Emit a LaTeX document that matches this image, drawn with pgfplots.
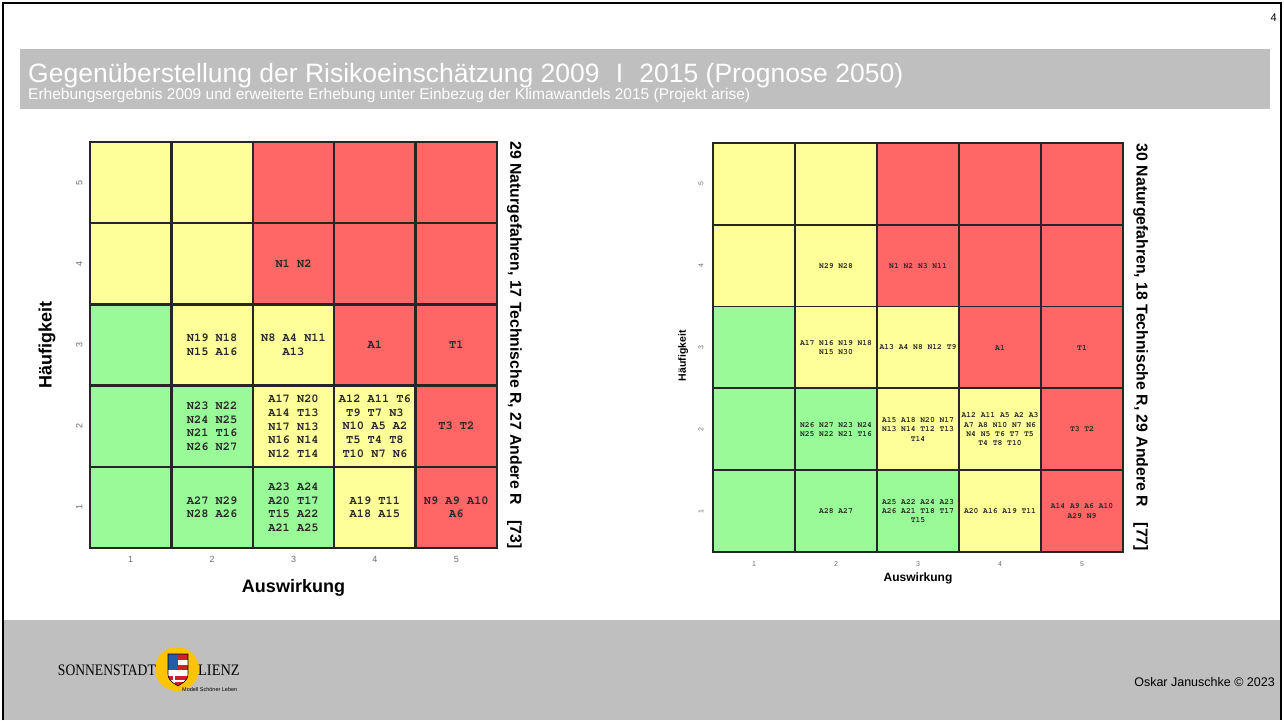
\documentclass[border=0pt]{standalone}
\usepackage{pgfplots}
\pgfplotsset{compat=1.18}
\usepackage{pgfplotstable}
\usepackage{fontspec}
\setmainfont{Liberation Sans}
\newfontfamily\cellfont{TeX Gyre Cursor}
\newfontfamily\logofont{Liberation Serif}
\definecolor{band}{RGB}{191,191,191}
\definecolor{tickgray}{RGB}{110,110,110}
\definecolor{celltxt}{RGB}{40,40,40}
\definecolor{gold}{RGB}{255,196,0}
\definecolor{crestblue}{RGB}{40,90,170}
\definecolor{crestred}{RGB}{210,30,40}

\pgfplotstableread{
x y c
1 1 0
2 1 0
3 1 0
4 1 1
5 1 2
1 2 0
2 2 0
3 2 1
4 2 1
5 2 2
1 3 0
2 3 1
3 3 1
4 3 2
5 3 2
1 4 1
2 4 1
3 4 2
4 4 2
5 4 2
1 5 1
2 5 1
3 5 2
4 5 2
5 5 2
}\riskgrid

\pgfplotsset{
  riskaxis/.style={
    scale only axis, clip=false,
    xmin=0.5, xmax=5.5, ymin=0.5, ymax=5.5,
    xtick={1,2,3,4,5}, ytick={1,2,3,4,5},
    minor xtick={1.5,2.5,3.5,4.5}, minor ytick={1.5,2.5,3.5,4.5},
    xminorgrids, yminorgrids,
    major tick length=0pt, minor tick length=0pt,
    axis on top,
    /pgf/number format/assume math mode=true,
    colormap={risk}{rgb255=(152,251,152) rgb255=(255,255,153) rgb255=(255,102,102)},
    point meta min=0, point meta max=2,
    xticklabel style={text=tickgray},
    yticklabel style={text=tickgray, rotate=90, anchor=south},
  }
}

\begin{document}
\begin{tikzpicture}
\useasboundingbox (0pt,0pt) rectangle (1284pt,720pt);
\fill[white] (0pt,0pt) rectangle (1284pt,720pt);
% title band
\fill[band] (20pt,611pt) rectangle (1270pt,671pt);
\node[anchor=base west, text=white, font=\fontsize{26.5}{29}\selectfont, inner sep=0pt] at (28pt,637pt) {Gegenüberstellung der Risikoeinschätzung 2009\,\, I \,\,2015 (Prognose 2050)};
\node[anchor=base west, text=white, font=\fontsize{15.5}{17}\selectfont, inner sep=0pt] at (28pt,620pt) {Erhebungsergebnis 2009 und erweiterte Erhebung unter Einbezug der Klimawandels 2015 (Projekt arise)};
\node[anchor=base east, font=\fontsize{11}{12}\selectfont, inner sep=0pt] at (1277pt,698pt) {4};
% footer
\fill[band] (3pt,0pt) rectangle (1281pt,100pt);
\node[anchor=base east, font=\fontsize{12.5}{14}\selectfont, inner sep=0pt] at (1275pt,34pt) {Oskar Januschke © 2023};
\fill[gold] (177pt,51pt) circle (22pt);
\node[anchor=base east, font=\logofont\fontsize{16}{18}\selectfont, inner sep=0pt, xscale=0.85] at (156pt,45pt) {SONNENSTADT};
\node[anchor=base west, font=\logofont\fontsize{16}{18}\selectfont, inner sep=0pt, xscale=0.9] at (198pt,45pt) {LIENZ};
\node[anchor=base west, font=\fontsize{5.5}{6}\selectfont, inner sep=0pt] at (182pt,29pt) {Modell Schöner Leben};
\begin{scope}
\clip (168pt,66pt) -- (188pt,66pt) -- (188pt,46pt) .. controls (188pt,38pt) and (180pt,36pt) .. (178pt,34pt) .. controls (176pt,36pt) and (168pt,38pt) .. (168pt,46pt) -- cycle;
\fill[white] (168pt,34pt) rectangle (188pt,66pt);
\fill[crestblue] (168pt,50pt) rectangle (178pt,66pt);
\fill[crestred] (178pt,60pt) rectangle (188pt,66pt);
\fill[crestred] (178pt,50pt) rectangle (188pt,55pt);
\fill[crestred] (168pt,34pt) rectangle (188pt,44pt);
\fill[white] (173pt,34pt) rectangle (175pt,44pt);
\fill[white] (168pt,38pt) rectangle (188pt,40pt);
\end{scope}
\draw[line width=0.6pt] (168pt,66pt) -- (188pt,66pt) -- (188pt,46pt) .. controls (188pt,38pt) and (180pt,36pt) .. (178pt,34pt) .. controls (176pt,36pt) and (168pt,38pt) .. (168pt,46pt) -- cycle;
% outer frame
\draw[line width=2pt] (3pt,0pt) -- (3pt,717pt) -- (1281pt,717pt) -- (1281pt,0pt);

% ---------------- left chart (2009) ----------------
\begin{axis}[riskaxis,
  at={(90pt,172pt)}, anchor=south west,
  width=407pt, height=406pt,
  minor grid style={black!85, line width=2.4pt},
  axis line style={black!85, line width=2.4pt},
  xticklabel style={font=\fontsize{9}{10}\selectfont},
  yticklabel style={font=\fontsize{9}{10}\selectfont},
  xticklabel shift=5pt, yticklabel shift=4pt,
  xlabel={Auswirkung}, ylabel={Häufigkeit},
  xlabel style={at={(axis description cs:0.5,-0.0985)}, anchor=center, font=\bfseries\fontsize{18}{20}\selectfont},
  ylabel style={at={(axis description cs:-0.1057,0.5)}, anchor=center, font=\bfseries\fontsize{18}{20}\selectfont},
]
\addplot[matrix plot*, mesh/cols=5, point meta=explicit] table[x=x, y=y, meta=c] {\riskgrid};
\addplot[only marks, mark=none, point meta=explicit symbolic,
  nodes near coords, nodes near coords align={center},
  every node near coord/.append style={anchor=center, align=center, inner sep=0pt, text=celltxt,
    font=\cellfont\bfseries\fontsize{12}{13.7}\selectfont}]
coordinates {
 (3,4) [{N1 N2}]
 (2,3) [{N19 N18\\N15 A16}]
 (3,3) [{N8 A4 N11\\A13}]
 (4,3) [{A1}]
 (5,3) [{T1}]
 (2,2) [{N23 N22\\N24 N25\\N21 T16\\N26 N27}]
 (3,2) [{A17 N20\\A14 T13\\N17 N13\\N16 N14\\N12 T14}]
 (4,2) [{A12 A11 T6\\T9 T7 N3\\N10 A5 A2\\T5 T4 T8\\T10 N7 N6}]
 (5,2) [{T3 T2}]
 (2,1) [{A27 N29\\N28 A26}]
 (3,1) [{A23 A24\\A20 T17\\T15 A22\\A21 A25}]
 (4,1) [{A19 T11\\A18 A15}]
 (5,1) [{N9 A9 A10\\A6}]
};
\node[rotate=-90, font=\bfseries\fontsize{15.8}{17}\selectfont] at (rel axis cs:1.043,0.5) {29 Naturgefahren, 17 Technische R, 27 Andere R\quad[73]};
\end{axis}

% ---------------- right chart (2015) ----------------
\begin{axis}[riskaxis,
  at={(713pt,168pt)}, anchor=south west,
  width=410pt, height=409pt,
  minor grid style={black!85, line width=1.8pt},
  axis line style={black!85, line width=1.8pt},
  xticklabel style={font=\fontsize{7}{8}\selectfont},
  yticklabel style={font=\fontsize{7}{8}\selectfont},
  xticklabel shift=6pt, yticklabel shift=6pt,
  xlabel={Auswirkung}, ylabel={Häufigkeit},
  xlabel style={at={(axis description cs:0.5,-0.0636)}, anchor=center, font=\bfseries\fontsize{12}{14}\selectfont},
  ylabel style={at={(axis description cs:-0.073,0.48)}, anchor=center, font=\bfseries\fontsize{10.5}{12}\selectfont},
]
\addplot[matrix plot*, mesh/cols=5, point meta=explicit] table[x=x, y=y, meta=c] {\riskgrid};
\addplot[only marks, mark=none, point meta=explicit symbolic,
  nodes near coords, nodes near coords align={center},
  every node near coord/.append style={anchor=center, align=center, inner sep=0pt, text=celltxt,
    font=\cellfont\bfseries\fontsize{8}{9.3}\selectfont}]
coordinates {
 (2,4) [{N29 N28}]
 (3,4) [{N1 N2 N3 N11}]
 (2,3) [{A17 N16 N19 N18\\N15 N30}]
 (3,3) [{A13 A4 N8 N12 T9}]
 (4,3) [{A1}]
 (5,3) [{T1}]
 (2,2) [{N26 N27 N23 N24\\N25 N22 N21 T16}]
 (3,2) [{A15 A18 N20 N17\\N13 N14 T12 T13\\T14}]
 (4,2) [{A12 A11 A5 A2 A3\\A7 A8 N10 N7 N6\\N4 N5 T6 T7 T5\\T4 T8 T10}]
 (5,2) [{T3 T2}]
 (2,1) [{A28 A27}]
 (3,1) [{A25 A22 A24 A23\\A26 A21 T18 T17\\T15}]
 (4,1) [{A20 A16 A19 T11}]
 (5,1) [{A14 A9 A6 A10\\A29 N9}]
};
\node[rotate=-90, font=\bfseries\fontsize{15.8}{17}\selectfont] at (rel axis cs:1.043,0.5) {30 Naturgefahren, 18 Technische R, 29 Andere R\quad[77]};
\end{axis}
\end{tikzpicture}
\end{document}
